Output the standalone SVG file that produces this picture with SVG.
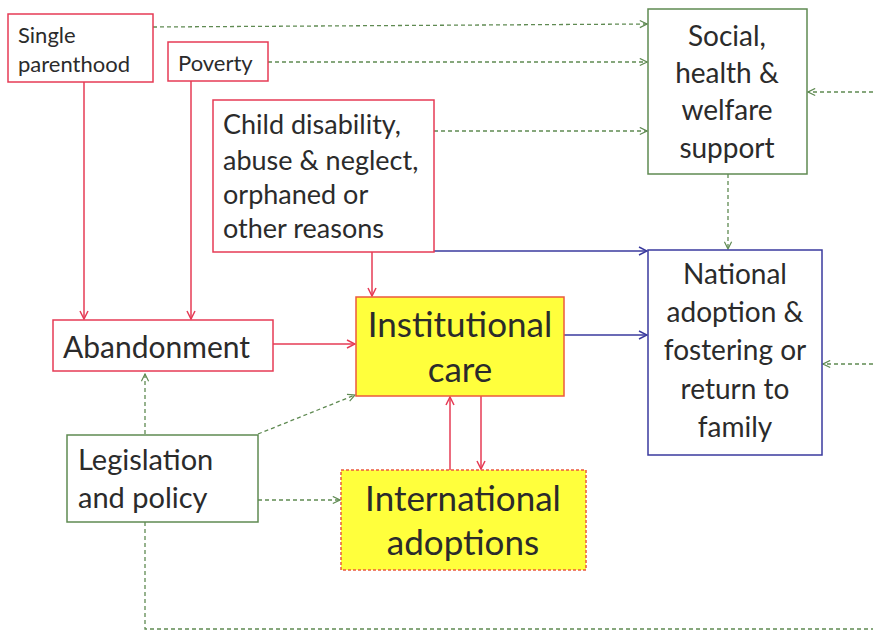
<svg xmlns="http://www.w3.org/2000/svg" width="873" height="631" viewBox="0 0 873 631">
  <style>
    text { font-family: Lato, "Open Sans", "Liberation Sans", sans-serif; fill: #2b2b2b; }
    .box { fill: #ffffff; stroke-width: 1.5; }
    .red { stroke: #e63b55; }
    .grn { stroke: #5f8a52; }
    .blu { stroke: #3a3a9e; }
    .hl { fill: #ffff3c; stroke: #ec5a3c; stroke-width: 1.5; }
    .hld { fill: #ffff3c; stroke: #ec5a3c; stroke-width: 1.5; stroke-dasharray: 3 2; }
    .c { fill: none; stroke-width: 1.5; }
    .d { fill: none; stroke-width: 1.3; stroke-dasharray: 4 3; }
  </style>
  <defs>
    <marker id="aRed" viewBox="0 0 10 10" refX="9" refY="5" markerWidth="10" markerHeight="10" markerUnits="userSpaceOnUse" orient="auto">
      <path d="M1,1 L9,5 L1,9" fill="none" stroke="#e63b55" stroke-width="1.5"/>
    </marker>
    <marker id="aBlu" viewBox="0 0 10 10" refX="9" refY="5" markerWidth="10" markerHeight="10" markerUnits="userSpaceOnUse" orient="auto">
      <path d="M1,1 L9,5 L1,9" fill="none" stroke="#3a3a9e" stroke-width="1.5"/>
    </marker>
    <marker id="aGrn" viewBox="0 0 10 10" refX="9" refY="5" markerWidth="9" markerHeight="9" markerUnits="userSpaceOnUse" orient="auto">
      <path d="M1,1 L9,5 L1,9" fill="none" stroke="#5f8a52" stroke-width="1.3"/>
    </marker>
  </defs>

  <rect width="873" height="631" fill="#ffffff"/>

  <!-- connectors -->
  <g id="connectors">
    <!-- causes into abandonment / care -->
    <path class="c red" d="M84,82 V319" marker-end="url(#aRed)"/>
    <path class="c red" d="M191,81 V319" marker-end="url(#aRed)"/>
    <path class="c red" d="M372,252 V296" marker-end="url(#aRed)"/>
    <path class="c red" d="M273,344 H355" marker-end="url(#aRed)"/>
    <path class="c red" d="M450,470 V397" marker-end="url(#aRed)"/>
    <path class="c red" d="M481,396 V469" marker-end="url(#aRed)"/>
    <!-- routes to national adoption -->
    <path class="c blu" d="M564,335 H647" marker-end="url(#aBlu)"/>
    <path class="c blu" d="M434,251 H647" marker-end="url(#aBlu)"/>
    <!-- support and policy influences -->
    <path class="d grn" d="M153,27 L647,24" marker-end="url(#aGrn)"/>
    <path class="d grn" d="M268,62 H647" marker-end="url(#aGrn)"/>
    <path class="d grn" d="M434,131 H647" marker-end="url(#aGrn)"/>
    <path class="d grn" d="M728,174 V249" marker-end="url(#aGrn)"/>
    <path class="d grn" d="M873,92 H808" marker-end="url(#aGrn)"/>
    <path class="d grn" d="M873,364 H823" marker-end="url(#aGrn)"/>
    <path class="d grn" d="M145,434 V374" marker-end="url(#aGrn)"/>
    <path class="d grn" d="M258,434 L355,395" marker-end="url(#aGrn)"/>
    <path class="d grn" d="M258,500 H340" marker-end="url(#aGrn)"/>
    <path class="d grn" d="M145,522 V629 H873"/>
  </g>

  <g id="single-parenthood">
    <rect class="box red" x="8" y="14" width="145" height="68"/>
    <text x="18" y="43" font-size="22">Single</text>
    <text x="18" y="72" font-size="22">parenthood</text>
  </g>

  <g id="poverty">
    <rect class="box red" x="168" y="42" width="100" height="39"/>
    <text x="178" y="71" font-size="22">Poverty</text>
  </g>

  <g id="child-disability">
    <rect class="box red" x="213" y="100" width="221" height="152"/>
    <text x="223" y="134" font-size="27">Child disability,</text>
    <text x="223" y="170" font-size="27">abuse &amp; neglect,</text>
    <text x="223" y="204" font-size="27">orphaned or</text>
    <text x="223" y="238" font-size="27">other reasons</text>
  </g>

  <g id="social-support">
    <rect class="box grn" x="648" y="9" width="159" height="165"/>
    <text x="727" y="46" font-size="28" text-anchor="middle">Social,</text>
    <text x="727" y="83" font-size="28" text-anchor="middle">health &amp;</text>
    <text x="727" y="120" font-size="28" text-anchor="middle">welfare</text>
    <text x="727" y="158" font-size="28" text-anchor="middle">support</text>
  </g>

  <g id="national-adoption">
    <rect class="box blu" x="648" y="250" width="174" height="205"/>
    <text x="735" y="284" font-size="28" text-anchor="middle">National</text>
    <text x="735" y="322" font-size="28" text-anchor="middle">adoption &amp;</text>
    <text x="735" y="360" font-size="28" text-anchor="middle">fostering or</text>
    <text x="735" y="399" font-size="28" text-anchor="middle">return to</text>
    <text x="735" y="437" font-size="28" text-anchor="middle">family</text>
  </g>

  <g id="abandonment">
    <rect class="box red" x="53" y="320" width="220" height="51"/>
    <text x="63" y="358" font-size="30">Abandonment</text>
  </g>

  <g id="institutional-care">
    <rect class="hl" x="356" y="297" width="208" height="99"/>
    <text x="460" y="337" font-size="35" text-anchor="middle">Institutional</text>
    <text x="460" y="382" font-size="35" text-anchor="middle">care</text>
  </g>

  <g id="international-adoptions">
    <rect class="hld" x="341" y="470" width="245" height="100"/>
    <text x="463" y="511" font-size="35" text-anchor="middle">International</text>
    <text x="463" y="555" font-size="35" text-anchor="middle">adoptions</text>
  </g>

  <g id="legislation">
    <rect class="box grn" x="67" y="435" width="191" height="87"/>
    <text x="78" y="470" font-size="29">Legislation</text>
    <text x="78" y="508" font-size="29">and policy</text>
  </g>
</svg>
